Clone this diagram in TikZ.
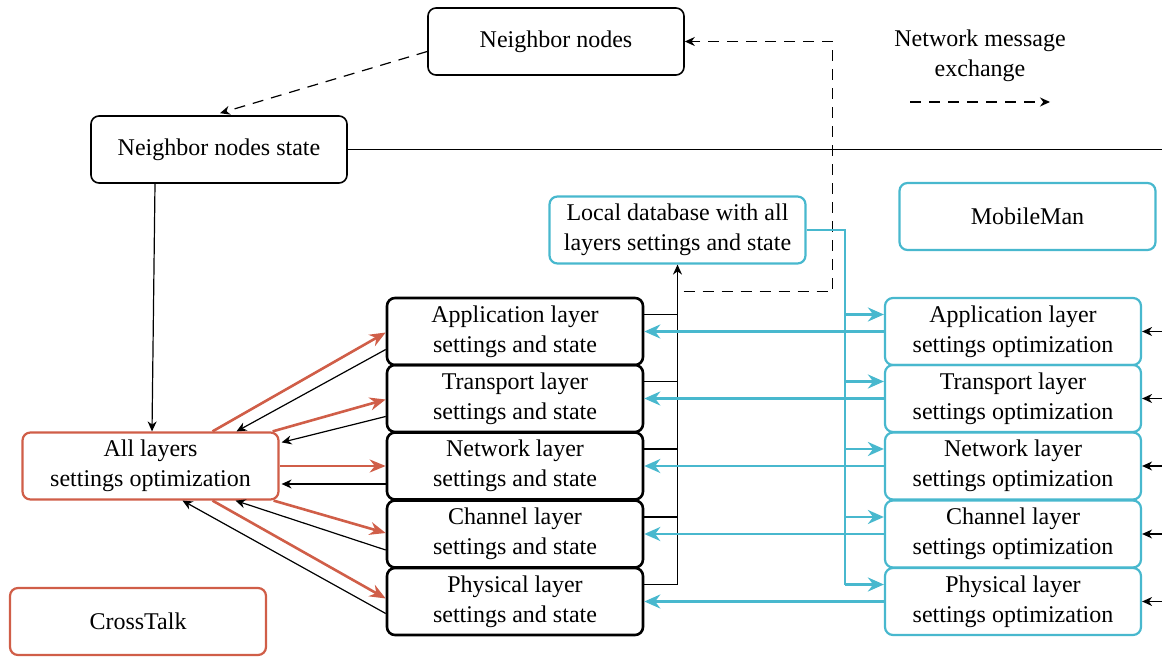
\documentclass[tikz,border=0pt]{standalone}
\usepackage{fontspec}
\setmainfont{Liberation Serif}
\usetikzlibrary{arrows.meta,calc,positioning}

\definecolor{ctred}{RGB}{208,94,72}
\definecolor{mmcyan}{RGB}{72,184,206}

\begin{document}
\begin{tikzpicture}[x=0.5pt,y=-0.5pt,font=\fontsize{12}{15}\selectfont]

    % --- STYLES ---
    \tikzset{
        box/.style={draw, rounded corners=4pt, minimum width=128pt, minimum height=33.5pt,
            inner sep=0pt, align=center, line width=0.8pt},
        layerbox/.style={box, line width=1.3pt},
        ctbox/.style={box, draw=ctred, line width=1.1pt},
        mmbox/.style={box, draw=mmcyan, line width=1.1pt},
        thinarrow/.style={-{Stealth[length=5pt,width=4.5pt]}, line width=0.6pt},
        msgarrow/.style={thinarrow, dash pattern=on 5.5pt off 4pt},
        redarrow/.style={-{Stealth[length=8pt,width=6.5pt]}, draw=ctred, line width=1.3pt},
        cyanline/.style={draw=mmcyan, line width=1.3pt},
        cyanarrow/.style={cyanline, -{Stealth[length=8pt,width=7pt]}}
    }

    \useasboundingbox (0,0) rectangle (1162,657);

    % --- NEIGHBORS ---
    \node[box] (nbr) at (556,41.5) {Neighbor nodes};
    \node[box] (nbrstate) at (219,149.5) {Neighbor nodes state};
    \node[align=center] (legend) at (980,56) {Network message\\exchange};
    \coordinate (legarrow) at (910,102);

    % --- CROSSTALK (links) ---
    \node[ctbox] (allopt) at (150.5,466) {All layers\\settings optimization};
    \node[ctbox] (crosstalk) at (138,621.5) {CrossTalk};

    % --- MOBILEMAN (rechts) ---
    \node[mmbox] (db) at (677.5,230) {Local database with all\\layers settings and state};
    \node[mmbox] (mobileman) at (1027.5,216.5) {MobileMan};

    % --- DIE FUENF SCHICHTEN ---
    \foreach \name/\lbl/\y in {app/Application/331.5, trans/Transport/398.5,
            net/Network/466, chan/Channel/534, phy/Physical/601.5} {
        \node[layerbox] (\name) at (515,\y) {\lbl{} layer\\settings and state};
        \node[mmbox] (opt\name) at (1013,\y) {\lbl{} layer\\settings optimization};
    }

    % --- NACHRICHTEN (gestrichelt) ---
    \draw[msgarrow] (legarrow) -- ++(140,0);
    \draw[msgarrow] ($(nbr.west)+(0,10)$) -- ($(nbrstate.north)+(1,-2)$);
    \draw[msgarrow] ($(db.south)+(6,27)$) -| ($(nbr.east)+(148,0)$) -- (nbr.east);
    \draw[line width=0.6pt] (nbrstate.east) -- ++(815,0);
    \draw[thinarrow] ($(nbrstate.south)+(-64,0)$) -- ($(allopt.north)+(1.5,0)$);

    % --- CROSSTALK PFEILE ---
    \draw[redarrow] ($(allopt.north)+(62,0)$) -- ($(app.west)+(0,1)$);
    \draw[redarrow] ($(allopt.north east)+(-7,0)$) -- ($(trans.west)+(0,1)$);
    \draw[redarrow] (allopt.east) -- (net.west);
    \draw[redarrow] ($(allopt.south east)+(-6,0)$) -- ($(chan.west)+(0,-1)$);
    \draw[redarrow] ($(allopt.south)+(62,0)$) -- ($(phy.west)+(0,-3)$);

    \draw[thinarrow] ($(app.west)+(0,18)$) -- ($(allopt.north)+(86,0)$);
    \draw[thinarrow] ($(trans.west)+(0,18)$) -- ($(allopt.north east)+(2,11)$);
    \draw[thinarrow] ($(net.west)+(0,18)$) -- ($(allopt.east)+(2,18)$);
    \draw[thinarrow] ($(chan.west)+(0,16)$) -- ($(allopt.south)+(85,0)$);
    \draw[thinarrow] ($(phy.west)+(0,12)$) -- ($(allopt.south)+(32,0)$);

    % --- DATENBANK ---
    \foreach \name in {app,trans,net,chan}
        \draw[line width=0.6pt] ($(\name.east)+(0,-17)$) -| (db.south);
    \draw[thinarrow] ($(phy.east)+(0,-17)$) -| (db.south);

    \draw[cyanline] (db.east) -| ($(optphy.west)+(-39,-17)$);
    \foreach \name in {app,trans,net,chan,phy} {
        \draw[cyanarrow] ($(opt\name.west)+(-39,-17)$) -- ($(opt\name.west)+(0,-17)$);
        \draw[cyanarrow] (opt\name.west) -- (\name.east);
        \draw[thinarrow] ($(opt\name.east)+(22,0)$) -- (opt\name.east);
    }

\end{tikzpicture}
\end{document}
